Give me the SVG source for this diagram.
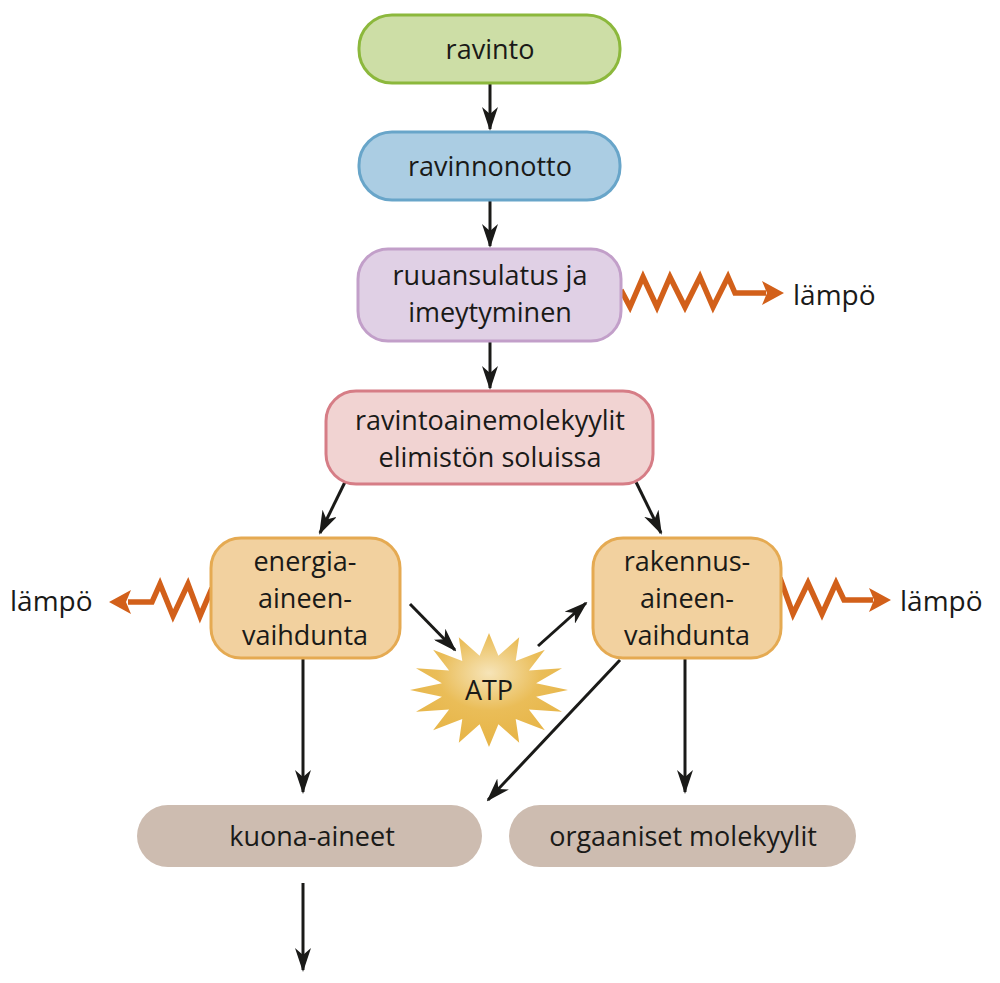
<svg xmlns="http://www.w3.org/2000/svg" width="1000" height="983" viewBox="0 0 1000 983">
<style>
.t{font-family:"Open Sans","Noto Sans","Liberation Sans",sans-serif;font-size:27px;fill:#1a1a18;text-anchor:middle}
.tl{font-family:"Open Sans","Noto Sans","Liberation Sans",sans-serif;font-size:28px;fill:#1a1a18}
.b{stroke-width:3}
.ar{stroke:#1a1a18;stroke-width:3;fill:none;marker-end:url(#ah)}
.zz{stroke:#d2601a;stroke-width:5.5;fill:none;stroke-linejoin:miter}
.oh{fill:#d2601a}
</style>
<defs>
<marker id="ah" markerUnits="userSpaceOnUse" viewBox="0 0 24 16" refX="22" refY="8" markerWidth="24" markerHeight="16" orient="auto">
<path d="M0,0 L24,8 L0,16 L7,8 Z" fill="#1a1a18"/>
</marker>
<radialGradient id="sg" cx="0.5" cy="0.35" r="0.6">
<stop offset="0" stop-color="#f6e4b8"/>
<stop offset="0.55" stop-color="#eabd58"/>
<stop offset="1" stop-color="#e7b548"/>
</radialGradient>
</defs>
<g id="connectors">
<line class="ar" x1="490" y1="83" x2="490" y2="129"/>
<line class="ar" x1="490" y1="200" x2="490" y2="246"/>
<line class="ar" x1="490" y1="341" x2="490" y2="388"/>
<line class="ar" x1="345" y1="482" x2="320" y2="533"/>
<line class="ar" x1="636" y1="482" x2="661" y2="533"/>
<line class="ar" x1="410" y1="604" x2="455" y2="650"/>
<line class="ar" x1="538" y1="646" x2="586" y2="603"/>
<line class="ar" x1="303" y1="658" x2="303" y2="792"/>
<line class="ar" x1="620" y1="660" x2="488" y2="800"/>
<line class="ar" x1="685" y1="658" x2="685" y2="792"/>
<line class="ar" x1="303" y1="883" x2="303" y2="970"/>
<polyline class="zz" points="621,290 630,307 643,277 657,307 670,277 685,307 700,277 713,307 728,277 735,293 766,293"/>
<polygon class="oh" points="784,293 762,281 767,293 762,305"/>
<polyline class="zz" points="212,588 200,616 188,584 173,616 160,584 152,602 128,602"/>
<polygon class="oh" points="109,602 131,590 126,602 131,614"/>
<polyline class="zz" points="780,578 793,614 808,583 822,614 836,583 844,600 873,600"/>
<polygon class="oh" points="891,600 869,588 874,600 869,612"/>
</g>
<g id="ravinto">
<rect class="b" x="359" y="15" width="261" height="68" rx="33" fill="#cddea6" stroke="#8cb83c"/>
<text class="t" x="490" y="59">ravinto</text>
</g>
<g id="ravinnonotto">
<rect class="b" x="359" y="132" width="261" height="68" rx="33" fill="#abcde3" stroke="#68a5c9"/>
<text class="t" x="490" y="176">ravinnonotto</text>
</g>
<g id="ruuansulatus">
<rect class="b" x="358" y="249" width="263" height="92" rx="30" fill="#e0d0e5" stroke="#c29fc9"/>
<text class="t" x="490" y="285">ruuansulatus ja</text>
<text class="t" x="490" y="322">imeytyminen</text>
</g>
<g id="ravintoainemolekyylit">
<rect class="b" x="326" y="391" width="327" height="93" rx="30" fill="#f1d3d2" stroke="#d67d86"/>
<text class="t" x="490" y="430">ravintoainemolekyylit</text>
<text class="t" x="490" y="467">elimistön soluissa</text>
</g>
<g id="energia">
<rect class="b" x="211" y="538" width="189" height="120" rx="30" fill="#f2d19f" stroke="#e5aa52"/>
<text class="t" x="305" y="571">energia-</text>
<text class="t" x="305" y="608">aineen-</text>
<text class="t" x="305" y="645">vaihdunta</text>
</g>
<g id="rakennus">
<rect class="b" x="593" y="538" width="188" height="120" rx="30" fill="#f2d19f" stroke="#e5aa52"/>
<text class="t" x="687" y="571">rakennus-</text>
<text class="t" x="687" y="608">aineen-</text>
<text class="t" x="687" y="645">vaihdunta</text>
</g>
<g id="atp">
<polygon fill="url(#sg)" points="568,690 536.1,696.8 562,711.8 528.9,709.4 544.9,730.3 515.7,719.1 519.2,742.7 498.4,724.3 489,747 479.6,724.3 458.8,742.7 462.3,719.1 433.1,730.3 449.1,709.4 416,711.8 441.9,696.8 410,690 441.9,683.2 416,668.2 449.1,670.6 433.1,649.7 462.3,660.9 458.8,637.3 479.6,655.7 489,633 498.4,655.7 519.2,637.3 515.7,660.9 544.9,649.7 528.9,670.6 562,668.2 536.1,683.2"/>
<text class="t" x="489" y="700">ATP</text>
</g>
<g id="kuona">
<rect x="137" y="805" width="345" height="62" rx="31" fill="#cdbcb0"/>
<text class="t" x="312" y="846">kuona-aineet</text>
</g>
<g id="orgaaniset">
<rect x="509" y="805" width="347" height="62" rx="31" fill="#cdbcb0"/>
<text class="t" x="683" y="846">orgaaniset molekyylit</text>
</g>
<g id="lampo">
<text class="tl" x="793" y="305">lämpö</text>
<text class="tl" x="10" y="611">lämpö</text>
<text class="tl" x="900" y="611">lämpö</text>
</g>
</svg>
